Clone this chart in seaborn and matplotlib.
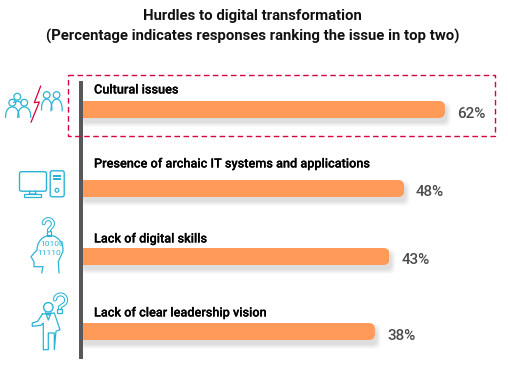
import numpy as np
import pandas as pd
import matplotlib
matplotlib.use('Agg')
import matplotlib.pyplot as plt
import seaborn as sns
from matplotlib.patches import FancyBboxPatch, Rectangle, Circle
import matplotlib.patheffects as pe

# chart data
issues = ['Cultural issues', 'Presence of archaic IT systems and applications',
          'Lack of digital skills', 'Lack of clear leadership vision']
percent = [62, 48, 43, 38]
title_lines = ['Hurdles to digital transformation',
               '(Percentage indicates responses ranking the issue in top two)']

W, H = 508, 369
BAR = '#ff9a59'
CYAN = '#2bb3d6'
RED = '#d5003f'
GREY = '#58585a'
FONT = ['Roboto', 'Liberation Sans', 'DejaVu Sans']

# rows in the picture are not evenly spaced, nudge them (pixels)
row_nudge = [0, 5, -1, 0]
label_y = [90, 164, 239, 313]

sns.set_theme(style='white')
plt.rcParams['font.family'] = FONT

fig = plt.figure(figsize=(W / 100, H / 100), dpi=100, facecolor='white')


def pixel_axes(z):
    a = fig.add_axes([0, 0, 1, 1], zorder=z)
    a.set_xlim(0, W)
    a.set_ylim(H, 0)
    a.axis('off')
    return a


shadow = pixel_axes(1)
over = pixel_axes(3)

# bars: the axis is cut off, the baseline sits far below zero
ax = fig.add_axes([83 / W, 1 - 368.5 / H, (W - 83) / W, 296 / H], zorder=2)
ax.patch.set_alpha(0)
df = pd.DataFrame({'issue': issues, 'percent': percent})
sns.barplot(data=df, x='percent', y='issue', color=BAR, saturation=1, width=17 / 74, ax=ax)
x_lo, x_hi = -62, 83.6
ax.set_xlim(x_lo, x_hi)
ax.set_ylim(3.5, -0.5)
ax.axis('off')

heavier = [pe.withStroke(linewidth=.12, foreground='black')]
for i, (bar, v) in enumerate(zip(ax.patches, percent)):
    bar.set_x(x_lo)
    bar.set_width(v - x_lo)
    bar.set_y(bar.get_y() + row_nudge[i] / 74)
    bar.set_linewidth(0)
    # pixel box of the bar
    (x0, y0), (x1, y1) = over.transData.inverted().transform(
        ax.transData.transform([(bar.get_x(), bar.get_y()),
                                (bar.get_x() + bar.get_width(), bar.get_y() + bar.get_height())]))
    # soft shadow underneath
    for grow, a in [(4, .03), (3, .04), (2, .05), (1, .06), (0, .07)]:
        shadow.add_patch(FancyBboxPatch((x0 - grow, y0 + 5 - grow), x1 - x0 + 2 + 2 * grow, y1 - y0 + 2 * grow,
                                        boxstyle='round,pad=0,rounding_size=6', fc='#777777', ec='none', alpha=a))
    # rounded right end by clipping the bar
    round_clip = FancyBboxPatch((x0 - 20, y0), x1 - x0 + 20, y1 - y0,
                                boxstyle='round,pad=0,rounding_size=6', transform=over.transData)
    bar.set_clip_path(round_clip)
    over.text(94, label_y[i], issues[i], fontsize=9.15, color='black', va='center', ha='left',
              fontweight='medium', family=FONT, path_effects=heavier)
    over.text(x1 + 12, (y0 + y1) / 2 + 4, '%d%%' % v, fontsize=10.9, color='#4a4a4a', va='center', ha='left',
              fontweight='medium', family=FONT)

# title
over.text(252.5, 16, title_lines[0], ha='center', va='center', fontsize=10.75, fontweight='bold', color='#111111', family=FONT)
over.text(252.5, 36, title_lines[1], ha='center', va='center', fontsize=10.75, fontweight='bold', color='#111111', family=FONT)

# axis line and highlight box
over.add_patch(Rectangle((79, 81), 4, 278, fc=GREY, ec='none'))
over.add_patch(Rectangle((67.5, 74.5), 427, 61.5, fc='none', ec=RED, lw=1, ls=(0, (4, 2.5))))


def line(xs, ys, c=CYAN, lw=.9):
    over.plot(xs, ys, color=c, lw=lw, solid_capstyle='round', solid_joinstyle='round')


def person(cx, head_y, r, half, bottom):
    over.add_patch(Circle((cx, head_y), r, fc='none', ec=CYAN, lw=.9))
    t = np.linspace(0, np.pi, 24)
    line(cx - half * np.cos(t), bottom - (bottom - head_y - r - .8) * np.sin(t) ** .8)


def question(cx, cy, r, box_x, box_y, box_w, box_h):
    t = np.radians(np.linspace(185, 400, 24))
    xs = np.r_[cx + r * np.cos(t), box_x + box_w / 2, box_x + box_w / 2]
    ys = np.r_[cy + r * np.sin(t), cy + r + 1.5, box_y - .5]
    line(xs, ys, lw=2.9)
    line(xs, ys, c='white', lw=1.4)
    over.add_patch(Rectangle((box_x, box_y), box_w, box_h, fc='white', ec=CYAN, lw=.9))


# people and the red bolt
over.add_patch(Circle((17.3, 96.7), 3.4, fc='none', ec=CYAN, lw=.9))
line([13.5, 17.3, 21], [102.5, 101, 102.5])
person(12.3, 102.7, 3.4, 6.7, 117.5)
person(24.2, 102.7, 3.4, 6.5, 117.5)
person(46.7, 95, 3.3, 5.2, 110)
person(56.6, 95, 3.3, 5.6, 111)
line([40.7, 34.3, 39.3, 31], [86, 102.7, 102, 122.3], c=RED, lw=.9)

# computer
over.add_patch(FancyBboxPatch((19.5, 171.7), 27, 19.5, boxstyle='round,pad=0,rounding_size=2', fc='none', ec=CYAN, lw=1))
over.add_patch(Rectangle((24.3, 194), 16.4, 3.3, fc='none', ec=CYAN, lw=.9))
line([30, 29.3, 36, 35.3], [191, 194, 194, 191])
over.add_patch(FancyBboxPatch((50.2, 170.8), 14, 26, boxstyle='round,pad=0,rounding_size=2', fc='none', ec=CYAN, lw=1))
over.add_patch(Rectangle((53.3, 175), 8, 1.8, fc=CYAN, ec='none'))
over.add_patch(Rectangle((53.3, 178.4), 8, 1.8, fc=CYAN, ec='none'))
over.add_patch(Circle((57, 190.3), 1.9, fc='none', ec=CYAN, lw=.9))

# head with binary digits
t = np.radians(np.linspace(183, 365, 30))
line(np.r_[41.7, 43, 34, 34, 31, 37, 50 + 13 * np.cos(t), 58.3, 59],
     np.r_[273, 266.7, 266.7, 261.7, 256.7, 250, 250 + 14.5 * np.sin(t), 261.7, 273])
head_clip = Circle((50, 250), 13.5, transform=over.transData)
for txt, tx, ty in [('10100', 52, 244.5), ('11110', 49.5, 252.7)]:
    digits = over.text(tx, ty, txt, fontsize=6.1, color=CYAN, ha='center', va='center', family=FONT)
    digits.set_clip_path(head_clip)
question(48.3, 223.7, 4.6, 46.7, 231, 4.5, 4.7)

# man with question mark
over.add_patch(Circle((48.3, 307.3), 4.7, fc='none', ec=CYAN, lw=1))
line([42.3, 37.7, 32.3, 32.3, 41, 43.3, 43.3, 48.3, 48.3, 54.3, 54.3, 56, 60, 54.3, 42.3],
     [314, 321.3, 323, 326.3, 325.3, 323, 349.7, 349.7, 333, 333, 349.7, 331.3, 329.7, 313, 314], lw=.9)
line([45.7, 48.3, 51, 48.3, 45.7], [313, 320, 313, 315, 313])
question(60.5, 300, 5.6, 57.3, 308.7, 5, 4.3)

fig.savefig('out.png', dpi=100)
